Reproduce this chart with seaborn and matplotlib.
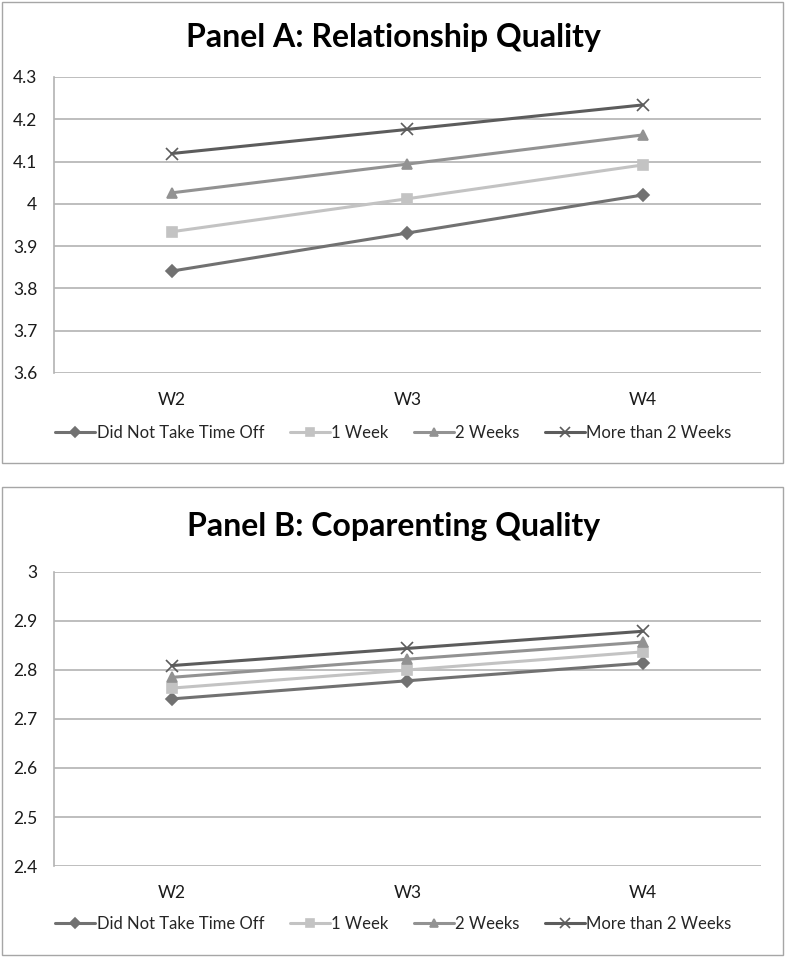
import pandas as pd
import matplotlib.pyplot as plt
import seaborn as sns
from matplotlib.patches import Rectangle

# Data
waves = ["W2", "W3", "W4"]
groups = ["Did Not Take Time Off", "1 Week", "2 Weeks", "More than 2 Weeks"]

relationship_none = [3.841, 3.931, 4.021]
relationship_1wk = [3.934, 4.012, 4.092]
relationship_2wk = [4.026, 4.094, 4.163]
relationship_more = [4.119, 4.176, 4.234]

coparenting_none = [2.741, 2.778, 2.814]
coparenting_1wk = [2.763, 2.800, 2.837]
coparenting_2wk = [2.785, 2.822, 2.857]
coparenting_more = [2.809, 2.844, 2.879]

colors = {"Did Not Take Time Off": "#717171", "1 Week": "#c3c3c3",
          "2 Weeks": "#929292", "More than 2 Weeks": "#5c5c5c"}
markers = {"Did Not Take Time Off": "D", "1 Week": "s",
           "2 Weeks": "^", "More than 2 Weeks": "x"}
msizes = {"Did Not Take Time Off": 6, "1 Week": 7,
          "2 Weeks": 7.5, "More than 2 Weeks": 8}


def make_df(series):
    rows = []
    for g, vals in zip(groups, series):
        for w, v in zip(waves, vals):
            rows.append({"wave": w, "group": g, "value": v})
    return pd.DataFrame(rows)


df_a = make_df([relationship_none, relationship_1wk, relationship_2wk, relationship_more])
df_b = make_df([coparenting_none, coparenting_1wk, coparenting_2wk, coparenting_more])

sns.set_theme(style="white")
plt.rcParams["font.family"] = ["Lato", "DejaVu Sans"]

fig = plt.figure(figsize=(7.87, 9.6), dpi=100)

# panel frames
for y0, h in [(0.5177, 0.480), (0.0052, 0.4875)]:
    fig.patches.append(Rectangle((0.0025, y0), 0.992, h, transform=fig.transFigure,
                                 fill=False, edgecolor="#a6a6a6", linewidth=1))

panels = [
    (df_a, "Panel A: Relationship Quality", [0.0686, 0.6115, 0.898, 0.3083],
     (3.6, 4.3), [3.6, 3.7, 3.8, 3.9, 4.0, 4.1, 4.2, 4.3],
     ["3.6", "3.7", "3.8", "3.9", "4", "4.1", "4.2", "4.3"], 0.961, 0.549),
    (df_b, "Panel B: Coparenting Quality", [0.0686, 0.0979, 0.898, 0.3063],
     (2.4, 3.0), [2.4, 2.5, 2.6, 2.7, 2.8, 2.9, 3.0],
     ["2.4", "2.5", "2.6", "2.7", "2.8", "2.9", "3"], 0.452, 0.0375),
]

for df, title, pos, ylim, yticks, ylabels, ty, ly in panels:
    ax = fig.add_axes(pos)
    for g in groups:
        sub = df[df["group"] == g]
        sns.lineplot(data=sub, x="wave", y="value", color=colors[g],
                     marker=markers[g], markersize=msizes[g],
                     markeredgewidth=1.2, markeredgecolor=colors[g],
                     linewidth=2.2, ax=ax, label=g)
    handles, labels = ax.get_legend_handles_labels()
    ax.get_legend().remove()
    ax.set_xlim(-0.5, 2.5)
    ax.set_ylim(*ylim)
    ax.set_yticks(yticks)
    ax.set_yticklabels(ylabels)
    ax.set_xlabel("")
    ax.set_ylabel("")
    ax.yaxis.grid(True, color="#b3b3b3", linewidth=1.2)
    ax.set_axisbelow(True)
    for side, s in ax.spines.items():
        s.set_visible(side == "left")
    ax.spines["left"].set_color("#b3b3b3")
    ax.spines["left"].set_linewidth(1.2)
    ax.tick_params(axis="both", length=0, labelsize=12.5, colors="#1a1a1a")
    ax.tick_params(axis="x", pad=14)
    ax.tick_params(axis="y", pad=12)
    fig.text(0.5, ty, title, ha="center", va="center", fontsize=23,
             fontweight="bold", color="#000000")
    fig.legend(handles, labels, loc="center", bbox_to_anchor=(0.5, ly), ncol=4,
               frameon=False, fontsize=12, handlelength=2.4, columnspacing=1.5,
               handletextpad=0.1, numpoints=1, markerscale=0.85)

fig.savefig("out.png", dpi=100)
